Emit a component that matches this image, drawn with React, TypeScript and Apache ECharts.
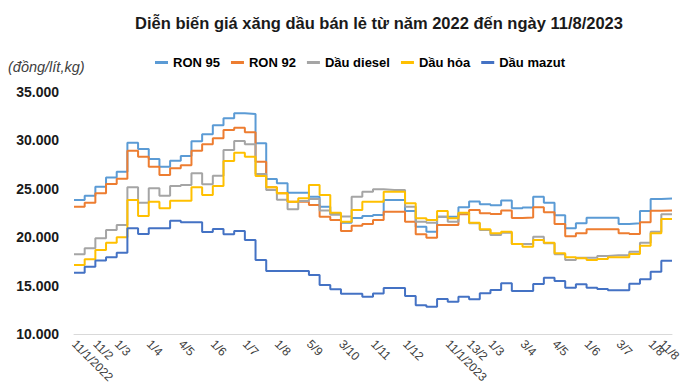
import React, { useEffect, useRef } from 'react';
import * as echarts from 'echarts';

// Price adjustment dates (categories)
const dates = [
  '11/1/2022', '21/1/2022', '11/2/2022', '21/2/2022', '1/3/2022', '11/3/2022', '21/3/2022',
  '1/4/2022', '11/4/2022', '21/4/2022', '4/5/2022', '11/5/2022', '23/5/2022', '1/6/2022',
  '13/6/2022', '21/6/2022', '1/7/2022', '11/7/2022', '21/7/2022', '1/8/2022', '11/8/2022',
  '22/8/2022', '5/9/2022', '12/9/2022', '21/9/2022', '3/10/2022', '11/10/2022', '21/10/2022',
  '1/11/2022', '11/11/2022', '21/11/2022', '1/12/2022', '12/12/2022', '22/12/2022',
  '3/1/2023', '11/1/2023', '30/1/2023', '13/2/2023', '21/2/2023', '1/3/2023', '13/3/2023',
  '21/3/2023', '3/4/2023', '11/4/2023', '21/4/2023', '4/5/2023', '11/5/2023', '22/5/2023',
  '1/6/2023', '12/6/2023', '21/6/2023', '3/7/2023', '11/7/2023', '21/7/2023', '1/8/2023',
  '11/8/2023',
];

// Categories that carry a tick label, and the text shown for each
const labelDates = [
  '11/1/2022', '11/2/2022', '1/3/2022', '1/4/2022', '4/5/2022', '1/6/2022', '1/7/2022',
  '1/8/2022', '5/9/2022', '3/10/2022', '1/11/2022', '1/12/2022', '11/1/2023', '13/2/2023',
  '1/3/2023', '3/4/2023', '4/5/2023', '1/6/2023', '3/7/2023', '1/8/2023', '11/8/2023',
];
const tickLabels = [
  '11/1/2022', '11/2', '1/3', '1/4', '4/5', '1/6', '1/7', '1/8', '5/9', '3/10', '1/11',
  '1/12', '11/1/2023', '13/2', '1/3', '3/4', '4/5', '1/6', '3/7', '1/8', '11/8',
];

const yTicks = [10000, 15000, 20000, 25000, 30000, 35000];

const ron95 = [
  23840, 24290, 25220, 26180, 26770, 29770, 29110, 28080, 27290, 27900, 28390, 29910, 30630,
  31560, 32280, 32800, 32730, 29700, 26010, 25570, 24600, 24600, 24180, 23150, 22400, 21500,
  21980, 22200, 22290, 23840, 23840, 22700, 21080, 20570, 22120, 22120, 23090, 23700, 23400,
  23290, 23800, 23000, 23080, 24180, 23560, 22280, 20930, 21430, 22000, 22000, 22000, 21360,
  21430, 22700, 23940, 24000,
];
const ron92 = [
  23150, 23560, 24530, 25500, 26040, 28940, 28320, 27290, 26430, 27120, 27430, 28940, 29600,
  30220, 31070, 31310, 30830, 27800, 25150, 24530, 23670, 23670, 23330, 22120, 21780, 20640,
  21190, 21360, 21780, 22640, 22640, 21600, 20300, 19950, 21260, 21260, 22360, 22810, 22470,
  22390, 22760, 21980, 22030, 23090, 22580, 21360, 20100, 20420, 20820, 20820, 20820, 20420,
  20330, 21550, 22720, 22750,
];
const diesel = [
  18230, 18850, 19890, 20740, 21260, 25150, 23560, 25050, 24290, 25290, 25390, 26600, 25460,
  26350, 29010, 29940, 29600, 26530, 24880, 23880, 22880, 23750, 23950, 22750, 22330, 22150,
  24180, 24700, 24950, 24880, 24880, 23150, 21600, 21500, 22120, 21600, 22470, 21430, 20740,
  20230, 20470, 19300, 19300, 20050, 19370, 18230, 17640, 17880, 17880, 18060, 18130, 18130,
  18500, 19430, 20570, 22360,
];
const kerosene = [
  17130, 17720, 18680, 19430, 19990, 23840, 22190, 23670, 22980, 23770, 23770, 25150, 24360,
  25290, 27870, 28730, 28320, 26320, 25150, 24530, 23670, 24020, 25390, 24360, 22530, 21600,
  22810, 23670, 23670, 24700, 24700, 23500, 21950, 21780, 22700, 21950, 22530, 21500, 20810,
  20400, 20570, 19300, 19020, 19710, 19430, 18340, 17920, 17820, 17640, 17740, 17920, 17920,
  18260, 19120, 20400, 21880,
];
const mazut = [
  16330, 16950, 17600, 17920, 18400, 20920, 20330, 20920, 20920, 21700, 21540, 21540, 20540,
  20850, 20300, 20640, 19710, 17640, 16510, 16510, 16510, 16510, 16100, 15060, 14620, 14150,
  14150, 13850, 14180, 14750, 14750, 13930, 12960, 12820, 13620, 13340, 13850, 13580, 14200,
  14550, 15240, 14440, 14440, 15170, 15820, 15480, 14790, 15130, 14790, 14650, 14510, 14510,
  15200, 15650, 16440, 17570,
];

const seriesNames = ['RON 95', 'RON 92', 'Dầu diesel', 'Dầu hỏa', 'Dầu mazut'];
const seriesColors = ['#5B9BD5', '#ED7D31', '#A5A5A5', '#FFC000', '#4472C4'];

const FONT = '"Liberation Sans", Arial, sans-serif';

export default function App() {
  const ref = useRef<HTMLDivElement>(null);

  useEffect(() => {
    if (!ref.current) return;
    const chart = echarts.init(ref.current, undefined, { renderer: 'svg' });
    // the last price is held until the right end of the chart
    const cats = [...dates, ''];
    const hold = (a: number[]) => [...a, a[a.length - 1]];
    const values = [ron95, ron92, diesel, kerosene, mazut];
    const lastLabel = labelDates[labelDates.length - 1];

    const labelStyle = {
      formatter: (v: string) => {
        const k = labelDates.indexOf(v);
        return k >= 0 ? tickLabels[k] : '';
      },
      hideOverlap: false,
      rotate: -45,
      margin: 8,
      fontFamily: FONT,
      fontSize: 12,
      color: '#404040',
    };

    chart.setOption({
      animation: false,
      backgroundColor: '#fff',
      title: {
        text: 'Diễn biến giá xăng dầu bán lẻ từ năm 2022 đến ngày 11/8/2023',
        left: 374,
        textAlign: 'center',
        top: 9,
        textStyle: { fontFamily: FONT, fontSize: 16.5, fontWeight: 'bold', color: '#1a1a1a' },
      },
      legend: {
        data: seriesNames,
        left: 150,
        top: 51,
        icon: 'rect',
        itemWidth: 13,
        itemHeight: 3,
        itemGap: 11,
        textStyle: { fontFamily: FONT, fontSize: 13, fontWeight: 'bold', color: '#000' },
      },
      graphic: [
        {
          type: 'text',
          left: 8,
          top: 59,
          style: {
            text: '(đồng/lít,kg)',
            font: 'italic 14.5px "Liberation Sans", Arial, sans-serif',
            fill: '#404040',
          },
        },
      ],
      grid: { left: 74, right: 28, top: 92, bottom: 58, containLabel: false },
      xAxis: [
        {
          type: 'category',
          data: cats,
          boundaryGap: false,
          axisLine: { show: true, lineStyle: { color: '#D9D9D9', width: 1 } },
          axisTick: { show: false },
          splitLine: { show: false },
          axisLabel: {
            ...labelStyle,
            interval: (_i: number, v: string) => v !== lastLabel && labelDates.includes(v),
          },
        },
        {
          // overlay axis carrying only the final label (it sits close to "1/8")
          type: 'category',
          data: cats,
          position: 'bottom',
          boundaryGap: false,
          axisLine: { show: false },
          axisTick: { show: false },
          splitLine: { show: false },
          axisLabel: {
            ...labelStyle,
            interval: (_i: number, v: string) => v === lastLabel,
          },
        },
      ],
      yAxis: {
        type: 'value',
        min: yTicks[0],
        max: yTicks[yTicks.length - 1],
        interval: 5000,
        axisLine: { show: false },
        axisTick: { show: false },
        splitLine: { show: false },
        axisLabel: {
          margin: 15,
          fontFamily: FONT,
          fontSize: 14,
          fontWeight: 'bold',
          color: '#1a1a1a',
          formatter: (v: number) => String(v).replace(/\B(?=(\d{3})+(?!\d))/g, '.'),
        },
      },
      series: seriesNames.map((name, i) => ({
        name,
        type: 'line',
        step: 'end',
        xAxisIndex: 0,
        data: hold(values[i]),
        showSymbol: false,
        symbol: 'none',
        lineStyle: { color: seriesColors[i], width: 2 },
        itemStyle: { color: seriesColors[i] },
      })),
    });
    return () => chart.dispose();
  }, []);

  return (
    <div
      ref={ref}
      style={{ position: 'absolute', left: 0, top: 0, width: 700, height: 392, background: '#fff' }}
    />
  );
}
